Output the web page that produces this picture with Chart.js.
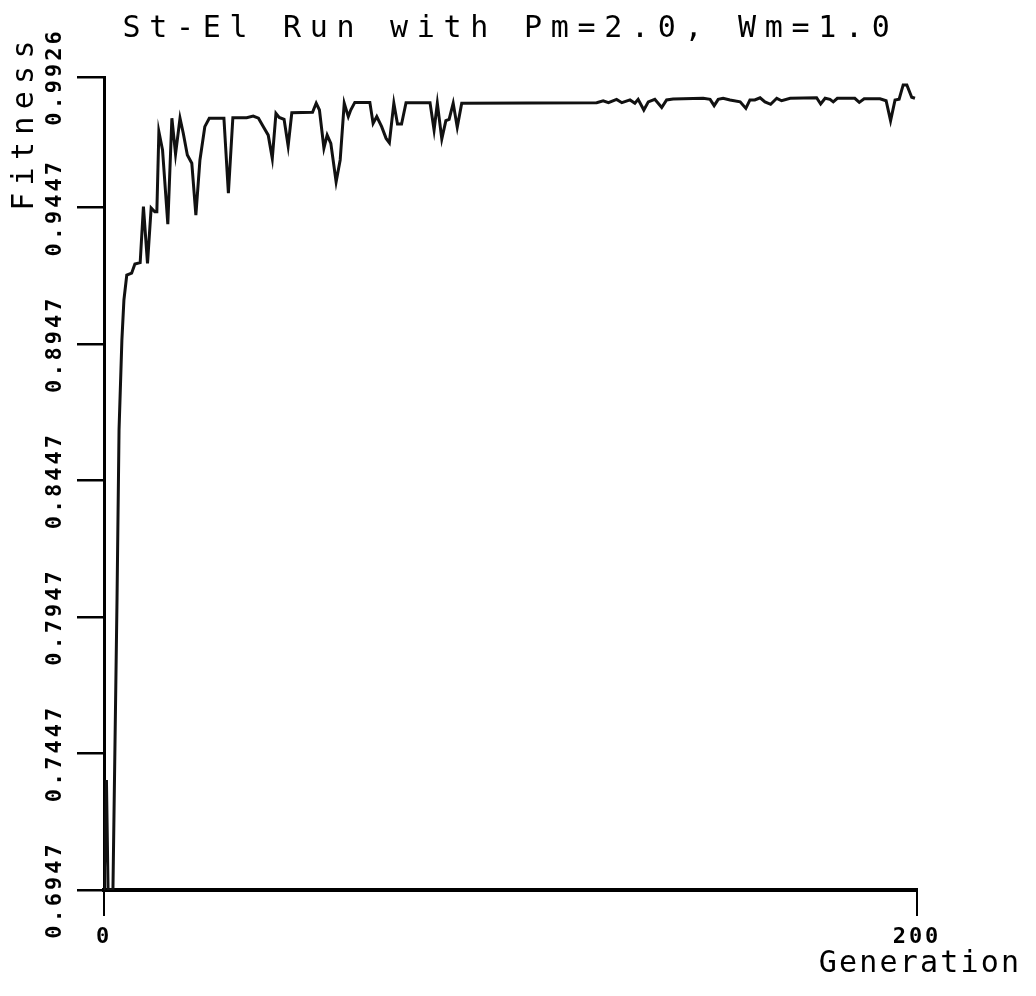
<!DOCTYPE html>
<html>
<head>
<meta charset="utf-8">
<title>St-El Run with Pm=2.0, Wm=1.0</title>
<script src="https://cdn.jsdelivr.net/npm/chart.js@4.4.1/dist/chart.umd.min.js"></script>
<style>
  html, body { margin: 0; padding: 0; background: #fff; }
  #wrap { width: 1036px; height: 996px; }
</style>
</head>
<body>
<div id="wrap"><canvas id="chart" width="1036" height="996"></canvas></div>
<script>
// Best-of-generation fitness, sampled at the turning points of the trace
const generations = [
  0, 0.6, 1.0, 2.2, 3.2, 3.7, 4.4, 4.9, 5.6, 6.8, 7.6, 8.9, 9.7, 10.7, 11.6, 12.5, 13.0,
  13.5, 14.4, 15.7, 16.7, 17.6, 18.7, 19.5, 20.5, 21.6, 22.6, 23.6, 24.8, 25.9, 29.5,
  30.6, 31.7, 35.1, 36.7, 38.0, 39.2, 40.4, 41.4, 42.3, 43.1, 44.3, 45.3, 46.2, 51.3,
  52.2, 53.0, 54.1, 54.9, 55.8, 57.1, 58.1, 59.1, 60.1, 60.7, 61.7, 65.4, 66.2, 67.1,
  68.3, 69.4, 70.2, 71.3, 72.2, 73.2, 74.3, 80.2, 81.2, 82.0, 83.1, 84.1, 84.9, 85.9,
  86.9, 88.0, 121.2, 122.8, 124.1, 126.1, 127.4, 129.4, 130.6, 131.4, 132.8, 133.9,
  135.5, 137.2, 138.4, 140.0, 147.4, 149.1, 150.1, 151.1, 152.3, 154.0, 156.5, 157.9,
  158.9, 160.1, 161.4, 162.6, 164.0, 165.5, 166.7, 168.8, 175.3, 176.3, 177.4, 178.6,
  179.4, 180.4, 184.7, 185.8, 187.0, 190.9, 192.4, 193.5, 194.6, 195.6, 196.6, 197.5,
  198.7, 199.5
];
const fitness = [
  0.6947, 0.7350, 0.6947, 0.6947, 0.8010, 0.8633, 0.8962, 0.9109, 0.9200, 0.9207, 0.9241,
  0.9246, 0.9451, 0.9243, 0.9446, 0.9432, 0.9432,
  0.9726, 0.9659, 0.9387, 0.9775, 0.9644, 0.9775, 0.9720, 0.9640, 0.9610, 0.9420, 0.9622,
  0.9744, 0.9775, 0.9775,
  0.9500, 0.9777, 0.9777, 0.9783, 0.9775, 0.9744, 0.9713, 0.9628, 0.9793, 0.9778, 0.9771,
  0.9673, 0.9795, 0.9797,
  0.9830, 0.9805, 0.9665, 0.9713, 0.9683, 0.9542, 0.9622, 0.9830, 0.9781, 0.9805, 0.9833,
  0.9833, 0.9756, 0.9781,
  0.9744, 0.9701, 0.9685, 0.9830, 0.9754, 0.9754, 0.9832, 0.9832, 0.9732, 0.9830, 0.9699,
  0.9766, 0.9771, 0.9830,
  0.9742, 0.9830, 0.9832, 0.9839, 0.9832, 0.9844, 0.9832, 0.9842, 0.9830, 0.9844, 0.9805,
  0.9835,
  0.9844, 0.9814, 0.9842, 0.9845, 0.9848, 0.9844, 0.9821, 0.9844, 0.9848, 0.9842, 0.9835,
  0.9811,
  0.9842, 0.9842, 0.9850, 0.9835, 0.9826, 0.9848, 0.9839, 0.9848, 0.9850, 0.9827, 0.9848,
  0.9844,
  0.9835, 0.9848, 0.9848, 0.9833, 0.9846, 0.9846, 0.9839, 0.9766, 0.9842, 0.9845, 0.9897,
  0.9897,
  0.9852, 0.9848
];

const fitnessTicks = [0.6947, 0.7447, 0.7947, 0.8447, 0.8947, 0.9447, 0.9926];
const generationTicks = [0, 200];

const chartTitle = 'St-El Run with Pm=2.0, Wm=1.0';
const xTitle = 'Generation';
const yTitle = 'Fitness';

const FONT = '"DejaVu Sans Mono", "Liberation Mono", monospace';

// Pen-plotter style lettering: wide letter spacing on every text item
const plotterText = {
  id: 'plotterText',
  beforeUpdate(chart) { chart.ctx.letterSpacing = '3px'; },
  beforeDraw(chart) { chart.ctx.letterSpacing = '3px'; },
  afterDraw(chart) {
    const { ctx, chartArea: a } = chart;
    ctx.save();
    ctx.fillStyle = '#000';
    ctx.textAlign = 'center';
    ctx.textBaseline = 'alphabetic';
    ctx.font = '30px ' + FONT;

    ctx.letterSpacing = '8.7px';
    ctx.fillText(chartTitle, (a.left + a.right) / 2, a.top - 40);

    ctx.letterSpacing = '2.2px';
    ctx.fillText(xTitle, a.right + 3, a.bottom + 82);

    ctx.translate(a.left - 71, a.top + 45);
    ctx.rotate(-Math.PI / 2);
    ctx.letterSpacing = '7.3px';
    ctx.fillText(yTitle, 0, 0);
    ctx.restore();
  }
};

new Chart(document.getElementById('chart'), {
  type: 'line',
  data: {
    datasets: [{
      data: generations.map((g, i) => ({ x: g, y: fitness[i] })),
      borderColor: '#111',
      borderWidth: 3,
      pointRadius: 0,
      tension: 0,
      fill: false
    }]
  },
  plugins: [plotterText],
  options: {
    responsive: false,
    animation: false,
    events: [],
    layout: { padding: { top: 77, right: 119, left: 0, bottom: 0 } },
    plugins: {
      legend: { display: false },
      title: { display: false },
      tooltip: { enabled: false }
    },
    scales: {
      x: {
        type: 'linear',
        min: 0,
        max: 200,
        afterBuildTicks: (s) => { s.ticks = generationTicks.map(v => ({ value: v })); },
        afterFit: (s) => { s.height = 106; },
        border: { display: true, color: '#000', width: 4 },
        grid: { drawOnChartArea: false, drawTicks: true, tickLength: 26, color: '#000', lineWidth: 2 },
        ticks: {
          color: '#000',
          padding: 8,
          maxRotation: 0,
          autoSkip: false,
          font: { family: FONT, size: 22, weight: 'bold' },
          callback: (v) => String(v)
        }
      },
      y: {
        type: 'linear',
        min: 0.6947,
        max: 0.9926,
        afterBuildTicks: (s) => { s.ticks = fitnessTicks.map(v => ({ value: v })); },
        afterFit: (s) => { s.width = 104; },
        border: { display: true, color: '#000', width: 3 },
        grid: { drawOnChartArea: false, drawTicks: true, tickLength: 27, color: '#000', lineWidth: 2.5 },
        ticks: {
          color: '#000',
          minRotation: 90,
          maxRotation: 90,
          crossAlign: 'center',
          padding: -27,
          autoSkip: false,
          font: { family: FONT, size: 22, weight: 'bold' },
          callback: (v) => Number(v).toFixed(4)
        }
      }
    }
  }
});
</script>
</body>
</html>
